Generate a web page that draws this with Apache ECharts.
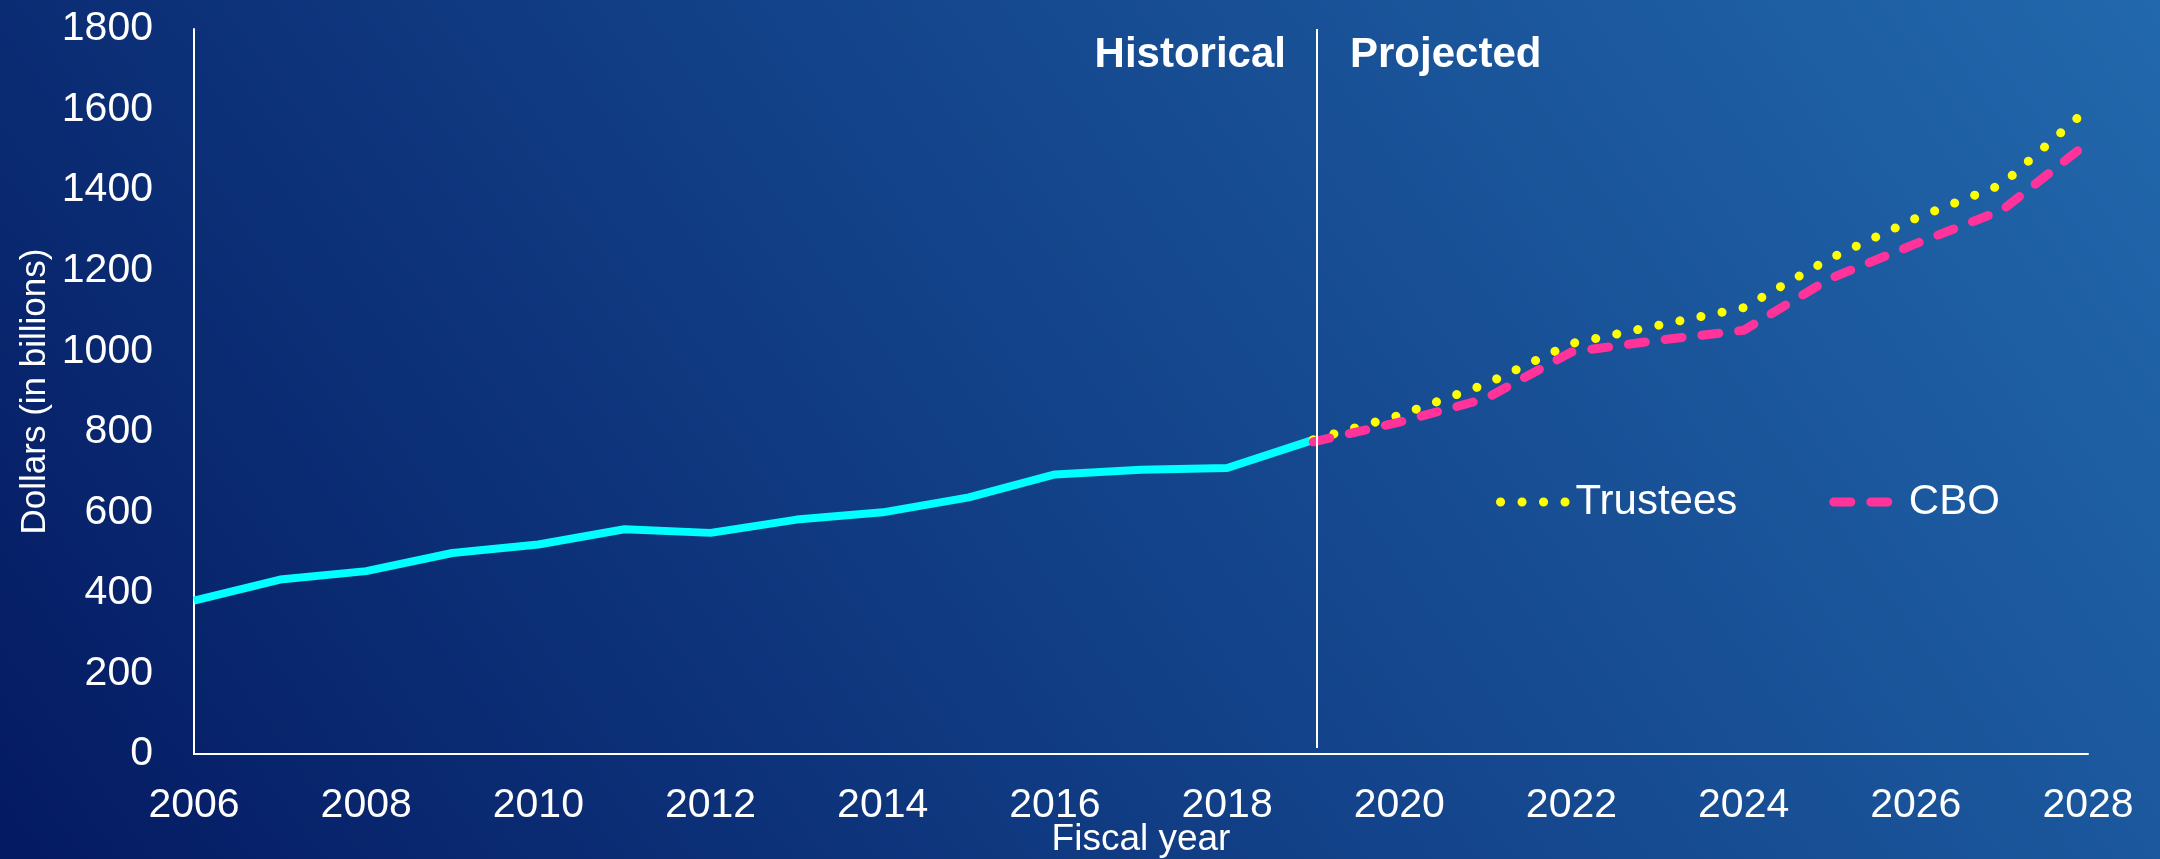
<!DOCTYPE html>
<html>
<head>
<meta charset="utf-8">
<script src="https://cdn.jsdelivr.net/npm/echarts@6/dist/echarts.min.js"></script>
<style>
html,body{margin:0;padding:0;background:#0b2a70;overflow:hidden;}
#chart{width:2160px;height:859px;}
</style>
</head>
<body>
<div id="chart"></div>
<script>
// ---- data ----
const histYears = [2006,2007,2008,2009,2010,2011,2012,2013,2014,2015,2016,2017,2018,2019];
const histValues = [381,433,454,499,520,558,549,582,600,637,694,706,710,780];
const projYears = [2019,2020,2021,2022,2023,2024,2025,2026,2027,2028];
const trusteesValues = [780,841,918,1019,1064,1108,1230,1330,1414,1602];
const cboValues = [775,824,882,998,1027,1052,1180,1267,1350,1518];
const xTicks = {min:2006, max:2028, interval:2};
const yTicks = {min:0, max:1800, interval:200};
const dividerYear = 2019.04;

const pair = (xs, ys) => xs.map((x,i)=>[x, ys[i]]);
const FONT = "'Liberation Sans', Arial, sans-serif";

const chart = echarts.init(document.getElementById('chart'), null, {renderer:'canvas'});
chart.setOption({
  animation:false,
  backgroundColor:{
    type:'linear', x:0, y:1, x2:0.853, y2:-0.52,
    colorStops:[
      {offset:0, color:'#041a62'},
      {offset:0.5, color:'#13438a'},
      {offset:1, color:'#2268ac'}
    ]
  },
  grid:{left:194, right:72, top:29, bottom:105, containLabel:false, outerBoundsMode:'none'},
  legend:{
    data:['Trustees','CBO'],
    left:1496, top:481, padding:0,
    itemWidth:70, itemHeight:14, itemGap:92,
    textStyle:{color:'#ffffff', fontSize:42, fontFamily:FONT},
    itemStyle:{opacity:0, borderWidth:0},
    lineStyle:{width:9},
    selectedMode:false
  },
  xAxis:{
    type:'value', min:xTicks.min, max:xTicks.max, interval:xTicks.interval,
    name:'Fiscal year', nameLocation:'middle', nameGap:67, nameMoveOverlap:false,
    nameTextStyle:{color:'#ffffff', fontSize:37, fontFamily:FONT},
    axisLine:{show:true, onZero:false, lineStyle:{color:'#ffffff', width:2}},
    axisTick:{show:false},
    splitLine:{show:false},
    axisLabel:{color:'#ffffff', fontSize:41, fontFamily:FONT, margin:31, formatter:v=>String(v)}
  },
  yAxis:{
    type:'value', min:yTicks.min, max:yTicks.max, interval:yTicks.interval,
    name:'Dollars (in billions)', nameLocation:'middle', nameGap:141, nameMoveOverlap:false,
    nameTextStyle:{color:'#ffffff', fontSize:35, fontFamily:FONT},
    axisLine:{show:true, lineStyle:{color:'#ffffff', width:2}},
    axisTick:{show:false},
    splitLine:{show:false},
    axisLabel:{color:'#ffffff', fontSize:41, fontFamily:FONT, margin:41, formatter:v=>String(v)}
  },
  series:[
    {
      name:'Historical', type:'line', data:pair(histYears, histValues),
      symbol:'none', lineStyle:{color:'#00ffff', width:8}, itemStyle:{color:'#00ffff'},
      z:2,
      markLine:{
        silent:true, symbol:'none', label:{show:false},
        lineStyle:{color:'#ffffff', width:2, type:'solid'},
        data:[[{coord:[dividerYear, 1800]},{coord:[dividerYear, 15]}]]
      }
    },
    {
      name:'Trustees', type:'line', data:pair(projYears, trusteesValues),
      symbol:'none', z:3,
      lineStyle:{color:'#ffff00', width:9, type:[0.1, 21.4], cap:'round'},
      itemStyle:{color:'#ffff00'}
    },
    {
      name:'CBO', type:'line', data:pair(projYears, cboValues),
      symbol:'none', z:4,
      lineStyle:{color:'#ff3399', width:9, type:[17, 20], cap:'round'},
      itemStyle:{color:'#ff3399'}
    }
  ],
  graphic:[
    {type:'text', x:1286, y:55, style:{text:'Historical', fill:'#ffffff', font:"bold 42px 'Liberation Sans', Arial, sans-serif", align:'right', verticalAlign:'middle'}},
    {type:'text', x:1350, y:55, style:{text:'Projected', fill:'#ffffff', font:"bold 42px 'Liberation Sans', Arial, sans-serif", align:'left', verticalAlign:'middle'}}
  ]
});
</script>
</body>
</html>
